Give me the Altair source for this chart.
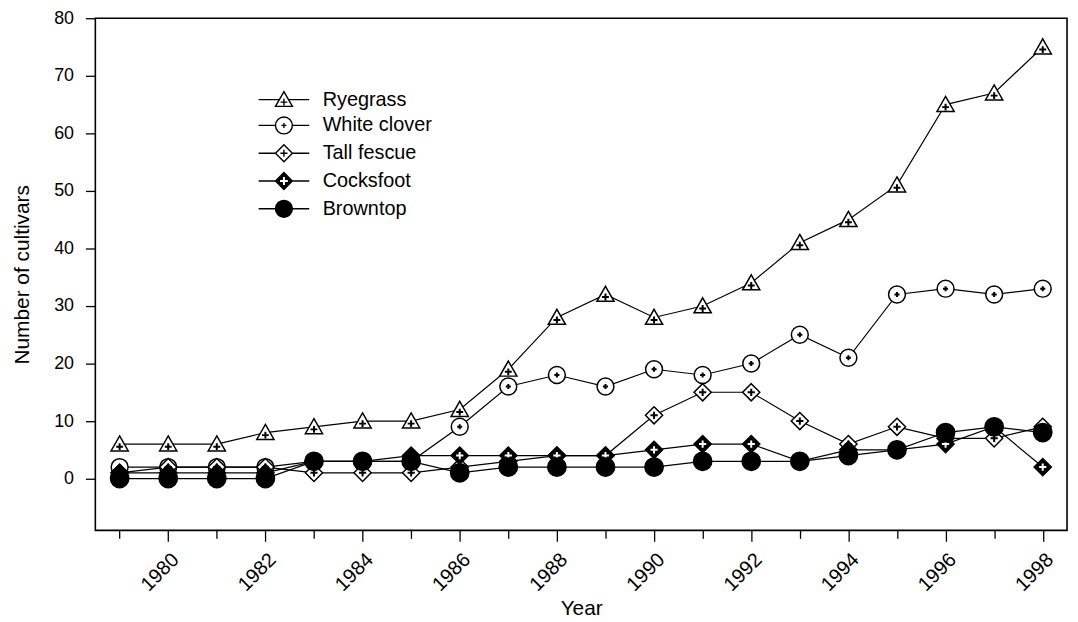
import altair as alt
import pandas as pd

years = list(range(1979, 1999))
series_names = ["Ryegrass", "White clover", "Tall fescue", "Cocksfoot", "Browntop"]
ryegrass = [6, 6, 6, 8, 9, 10, 10, 12, 19, 28, 32, 28, 30, 34, 41, 45, 51, 65, 67, 75]
white_clover = [2, 2, 2, 2, 3, 3, 3, 9, 16, 18, 16, 19, 18, 20, 25, 21, 32, 33, 32, 33]
tall_fescue = [1, 2, 2, 2, 1, 1, 1, 2, 3, 4, 4, 11, 15, 15, 10, 6, 9, 7, 7, 9]
cocksfoot = [1, 1, 1, 1, 3, 3, 4, 4, 4, 4, 4, 5, 6, 6, 3, 5, 5, 6, 9, 2]
browntop = [0, 0, 0, 0, 3, 3, 3, 1, 2, 2, 2, 2, 3, 3, 3, 4, 5, 8, 9, 8]
y_ticks = list(range(0, 81, 10))

values = [ryegrass, white_clover, tall_fescue, cocksfoot, browntop]
rows = []
for name, vals in zip(series_names, values):
    for yr, v in zip(years, vals):
        rows.append({"series": name, "year": yr, "value": v})
df = pd.DataFrame(rows)

FONT = "Liberation Sans, Arial, Helvetica, sans-serif"

# marker outlines (unit coordinates)
TRI = "M0,-0.95L1,0.8L-1,0.8Z"
CIRC = "M1,0A1,1,0,1,1,-1,0A1,1,0,1,1,1,0Z"
DIAM = "M0,-1L1,0L0,1L-1,0Z"
PLUS = "M-0.42,0L0.42,0M0,-0.42L0,0.42"
PLUS_TRI = "M-0.4,0.3L0.4,0.3M0,-0.1L0,0.7"
PLUS_SMALL = "M-0.3,0L0.3,0M0,-0.3L0,0.3"

marker_shapes = [TRI, CIRC, DIAM, DIAM, CIRC]
marker_fills = ["white", "white", "white", "black", "black"]
marker_sizes = [300, 289, 300, 300, 340]
plus_shapes = [PLUS_TRI, PLUS_SMALL, PLUS, PLUS, None]
plus_colors = ["black", "black", "black", "white", None]

# legend symbols: line stubs + marker + plus
HOLE = ("M-0.2,-0.55L-0.2,-0.2L-0.55,-0.2L-0.55,0.2L-0.2,0.2L-0.2,0.55"
        "L0.2,0.55L0.2,0.2L0.55,0.2L0.55,-0.2L0.2,-0.2L0.2,-0.55Z")
leg_paths = [
    "M-3,0L-0.54,0M0.54,0L3,0" + TRI + "M-0.4,0.3L0.4,0.3M0,-0.1L0,0.7",
    "M-3,0L-1,0M1,0L3,0" + CIRC + "M-0.3,0L0.3,0M0,-0.3L0,0.3",
    "M-3,0L-1,0M1,0L3,0" + DIAM + "M-0.42,0L0.42,0M0,-0.42L0,0.42",
    "M-3,0L-1,0M1,0L3,0" + DIAM + HOLE,
    "M-3,0L-1,0M1,0L3,0" + CIRC,
]
leg_strokes = ["black"] * 5

x_enc = alt.X(
    "year:Q",
    scale=alt.Scale(domain=[1978.5, 1998.5], nice=False, zero=False),
    axis=alt.Axis(
        values=years,
        labelExpr="datum.value % 2 == 0 ? toString(datum.value) : ''",
        labelAngle=315,
        labelOverlap=False,
        labelFlush=False,
        labelBound=False,
        tickSize={"condition": {"test": "datum.value % 2 == 0", "value": 11}, "value": 8},
        tickColor="black",
        tickWidth=1.3,
        domain=False,
        grid=False,
        labelFont=FONT,
        labelFontSize=20,
        labelColor="black",
        labelPadding=8,
        title="Year",
        titleFont=FONT,
        titleFontSize=21,
        titleFontWeight="normal",
        titleColor="black",
        titlePadding=3,
    ),
)
y_enc = alt.Y(
    "value:Q",
    scale=alt.Scale(domain=[-9, 80], nice=False, zero=False),
    axis=alt.Axis(
        values=y_ticks,
        tickSize=10,
        tickColor="black",
        tickWidth=1.3,
        domain=False,
        grid=False,
        labelFont=FONT,
        labelFontSize=18,
        labelColor="black",
        labelPadding=12,
        title="Number of cultivars",
        titleFont=FONT,
        titleFontSize=21,
        titleFontWeight="normal",
        titleColor="black",
        titlePadding=21,
    ),
)

base = alt.Chart(df)
layers = [base.mark_line(color="black", strokeWidth=1.2).encode(x=x_enc, y=y_enc, detail="series:N")]

for name, shp, fill, sz, pshp, pcol in zip(series_names, marker_shapes, marker_fills,
                                          marker_sizes, plus_shapes, plus_colors):
    sub = base.transform_filter(alt.datum.series == name)
    layers.append(
        sub.mark_point(filled=True, fill=fill, stroke="black", strokeWidth=1.5,
                       size=sz, shape=shp, opacity=1).encode(x="year:Q", y="value:Q")
    )
    if pshp:
        layers.append(
            sub.mark_point(filled=False, stroke=pcol, strokeWidth=2, size=sz,
                           shape=pshp, opacity=1).encode(x="year:Q", y="value:Q")
        )

leg_props = dict(
    title=None,
    orient="none",
    legendX=180,
    legendY=72,
    direction="vertical",
    symbolSize=289,
    symbolStrokeWidth=1.4,
    labelFont=FONT,
    labelFontSize=20,
    labelColor="black",
    labelOffset=29,
    rowPadding=4,
    padding=0,
)
legend_layer = base.transform_filter("false").mark_point(
    filled=True, strokeWidth=1.4, size=289, opacity=1
).encode(
    x="year:Q",
    y="value:Q",
    shape=alt.Shape("series:N", scale=alt.Scale(domain=series_names, range=leg_paths),
                    legend=alt.Legend(**leg_props)),
    fill=alt.Fill("series:N", scale=alt.Scale(domain=series_names, range=marker_fills),
                  legend=alt.Legend(**leg_props)),
    stroke=alt.Stroke("series:N", scale=alt.Scale(domain=series_names, range=leg_strokes),
                      legend=alt.Legend(**leg_props)),
)
layers.append(legend_layer)

chart = alt.layer(*layers).properties(
    width=979,
    height=516,
    autosize=alt.AutoSizeParams(type="none"),
    padding={"left": 88, "top": 8, "right": 3, "bottom": 90},
    background="white",
).configure_view(stroke="black", strokeWidth=1.6)

chart.save("out.html", embed_options={"renderer": "svg", "actions": False})
